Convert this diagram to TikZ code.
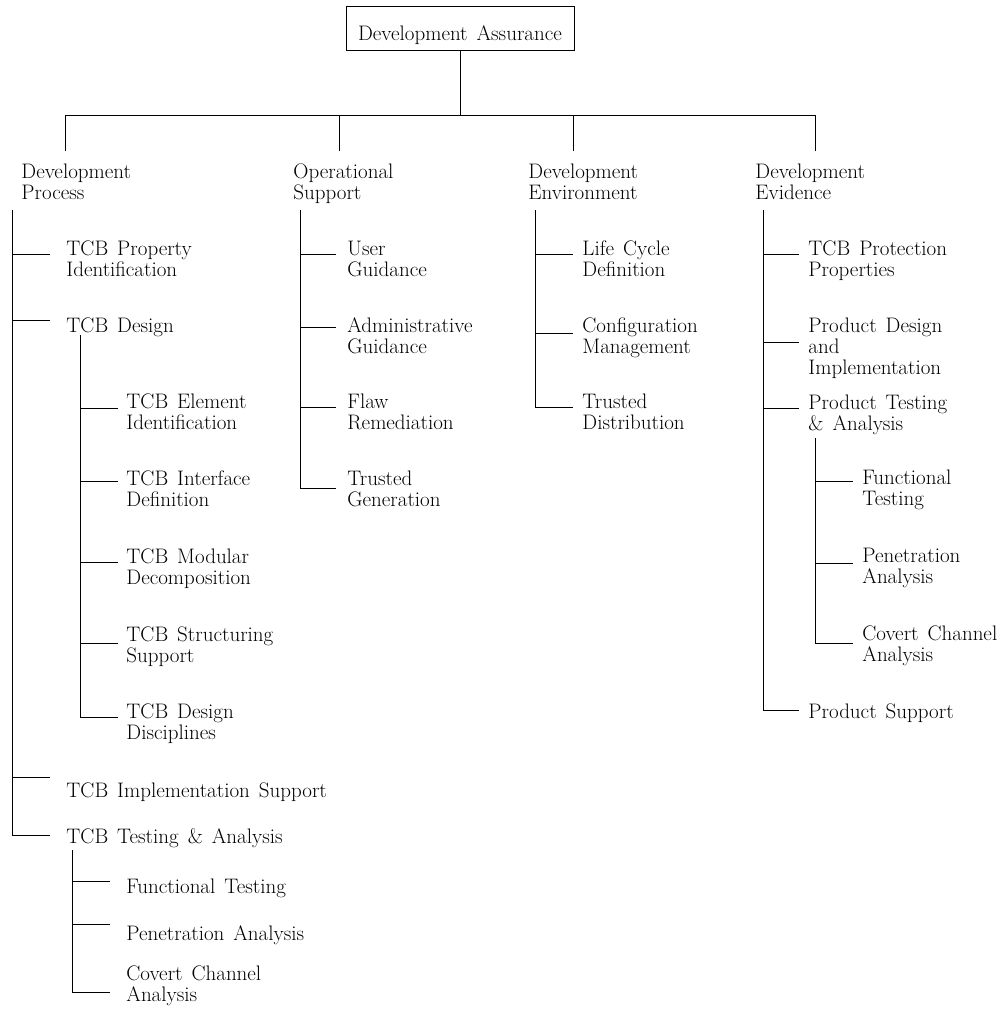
\documentclass[tikz,border=0pt]{standalone}
\usepackage{fontspec}

\newcommand\lblfont{\fontsize{21}{21}\selectfont\spaceskip=.43em plus .1em minus .05em\relax}
\newcommand\stack[1]{\begin{tabular}[t]{@{}l@{}}#1\end{tabular}}
% twig: [y offset]{trunk top}{child}{gap before text}
\newcommand\twig[4][-1]{\draw (#2) |- ([shift={(-#4,#1)}]#3.base west);}

\tikzset{
	lbl/.style={anchor=base west, inner sep=0pt, font=\lblfont},
	rootbox/.style={draw, anchor=base, inner sep=0pt, minimum width=228pt,
		text height=34pt, text depth=10pt, font=\lblfont},
}

\begin{document}
\begin{tikzpicture}[x=1pt, y=-1pt, line width=0.9pt]
	\useasboundingbox (0,0) rectangle (1002,1015);
	
	% top
	\node[rootbox] (root) at (460,40) {Development Assurance};
	\coordinate (bus) at (460,115);
	\draw (root.south) -- (bus);
	
	\coordinate (dp-in) at (65,151);
	\coordinate (os-in) at (339,151);
	\coordinate (de-in) at (573,151);
	\coordinate (dv-in) at (815,151);
	\foreach \c in {dp-in,os-in,de-in,dv-in}
		\draw (\c) |- (bus);
	
	\node[lbl] (dp) at (21,178) {\stack{Development\\Process}};
	\node[lbl] (os) at (293,178) {\stack{Operational\\Support}};
	\node[lbl] (de) at (528,178) {\stack{Development\\Environment}};
	\node[lbl] (dv) at (755,178) {\stack{Development\\Evidence}};
	
	\coordinate (dp-t) at (12,210);
	\coordinate (os-t) at (300,210);
	\coordinate (de-t) at (535,210);
	\coordinate (dv-t) at (763,210);
	
	% development process
	\node[lbl] (pid) at (66,255) {\stack{TCB Property\\Identification}};
	\node[lbl] (dsg) at (66,332) {TCB Design};
	\node[lbl] (imp) at (66,797) {TCB Implementation Support};
	\node[lbl] (tst) at (66,843) {TCB Testing \& Analysis};
	\twig{dp-t}{pid}{16}
	\twig[-12]{dp-t}{dsg}{16}
	\twig[-20]{dp-t}{imp}{16}
	\twig[-8]{dp-t}{tst}{16}
	
	\coordinate (dsg-t) at (80,335);
	\node[lbl] (eid) at (126,408) {\stack{TCB Element\\Identification}};
	\node[lbl] (ifd) at (126,485) {\stack{TCB Interface\\Definition}};
	\node[lbl] (mod) at (126,563) {\stack{TCB Modular\\Decomposition}};
	\node[lbl] (str) at (126,641) {\stack{TCB Structuring\\Support}};
	\node[lbl] (dis) at (126,718) {\stack{TCB Design\\Disciplines}};
	\twig[0]{dsg-t}{eid}{8}
	\twig[-4]{dsg-t}{ifd}{8}
	\twig{dsg-t}{mod}{8}
	\twig[2]{dsg-t}{str}{8}
	\twig{dsg-t}{dis}{8}
	
	\coordinate (tst-t) at (72,850);
	\node[lbl] (tft) at (126,893) {Functional Testing};
	\node[lbl] (tpa) at (126,940) {Penetration Analysis};
	\node[lbl] (tcc) at (126,980) {\stack{Covert Channel\\Analysis}};
	\twig[-12]{tst-t}{tft}{16}
	\twig[-16]{tst-t}{tpa}{16}
	\twig[12]{tst-t}{tcc}{16}
	
	% operational support
	\node[lbl] (ug) at (347,255) {\stack{User\\Guidance}};
	\node[lbl] (ag) at (347,332) {\stack{Administrative\\Guidance}};
	\node[lbl] (fr) at (347,408) {\stack{Flaw\\Remediation}};
	\node[lbl] (tg) at (347,485) {\stack{Trusted\\Generation}};
	\twig{os-t}{ug}{11}
	\twig[-5]{os-t}{ag}{11}
	\twig{os-t}{fr}{11}
	\twig[3]{os-t}{tg}{11}
	
	% development environment
	\node[lbl] (lcd) at (582,255) {\stack{Life Cycle\\Definition}};
	\node[lbl] (cm) at (582,332) {\stack{Configuration\\Management}};
	\node[lbl] (td) at (582,408) {\stack{Trusted\\Distribution}};
	\twig{de-t}{lcd}{9}
	\twig[1]{de-t}{cm}{9}
	\twig{de-t}{td}{9}
	
	% development evidence
	\node[lbl] (tpp) at (808,255) {\stack{TCB Protection\\Properties}};
	\node[lbl] (pdi) at (808,332) {\stack{Product Design\\and\\Implementation}};
	\node[lbl] (pta) at (808,409) {\stack{Product Testing\\\& Analysis}};
	\node[lbl] (ps) at (808,718) {Product Support};
	\twig{dv-t}{tpp}{9}
	\twig[10]{dv-t}{pdi}{9}
	\twig{dv-t}{pta}{9}
	\twig[-8]{dv-t}{ps}{9}
	
	\coordinate (pta-t) at (815,438);
	\node[lbl] (ft) at (862,484) {\stack{Functional\\Testing}};
	\node[lbl] (pa) at (862,562) {\stack{Penetration\\Analysis}};
	\node[lbl] (cc) at (862,640) {\stack{Covert Channel\\Analysis}};
	\twig[-3]{pta-t}{ft}{9}
	\twig[1]{pta-t}{pa}{9}
	\twig[3]{pta-t}{cc}{9}
\end{tikzpicture}
\end{document}
